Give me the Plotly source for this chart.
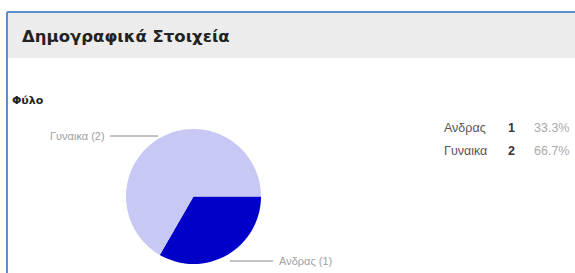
import plotly.graph_objects as go

labels = ["Ανδρας", "Γυναικα"]
counts = [1, 2]
colors = ["#0000c8", "#c8c8f4"]
title_text = "Δημογραφικά Στοιχεία"
section_text = "Φύλο"

W, H = 575, 273
total = sum(counts)
pcts = [c / total * 100 for c in counts]

def px(x):
    return x / W

def py(y):
    return 1 - y / H

fig = go.Figure()
fig.add_trace(go.Pie(
    labels=labels, values=counts, sort=False, direction="clockwise", rotation=90,
    marker=dict(colors=colors, line=dict(width=0)), textinfo="none", hoverinfo="label+value+percent",
    showlegend=False,
    domain=dict(x=[px(124), px(263)], y=[py(264), py(129)]),
))

shapes = [
    # header band
    dict(type="rect", xref="paper", yref="paper", x0=px(8), x1=px(576), y0=py(58), y1=py(13),
         fillcolor="#ececec", line=dict(width=0), layer="below"),
    # border
    dict(type="line", xref="paper", yref="paper", x0=px(7), x1=px(7), y0=py(12), y1=py(274),
         line=dict(color="#5b8fd0", width=2)),
    dict(type="line", xref="paper", yref="paper", x0=px(7), x1=px(576), y0=py(12), y1=py(12),
         line=dict(color="#5b8fd0", width=2)),
    # leader lines
    dict(type="line", xref="paper", yref="paper", x0=px(110), x1=px(158), y0=py(136), y1=py(136),
         line=dict(color="#888888", width=1)),
    dict(type="line", xref="paper", yref="paper", x0=px(230), x1=px(273), y0=py(261), y1=py(261),
         line=dict(color="#888888", width=1)),
]

annotations = [
    dict(text="<b>" + title_text + "</b>", x=px(20), y=py(37), xanchor="left", yanchor="middle",
         font=dict(size=16.5, color="#222222", family="DejaVu Sans, Verdana, sans-serif")),
    dict(text="<b>" + section_text + "</b>", x=px(10), y=py(100), xanchor="left", yanchor="middle",
         font=dict(size=11, color="#222222", family="DejaVu Sans, Arial, sans-serif")),
    dict(text=f"{labels[1]} ({counts[1]})", x=px(107), y=py(136), xanchor="right", yanchor="middle",
         font=dict(size=11, color="#a0a0a0", family="Arial, sans-serif")),
    dict(text=f"{labels[0]} ({counts[0]})", x=px(277), y=py(261), xanchor="left", yanchor="middle",
         font=dict(size=11, color="#a0a0a0", family="Arial, sans-serif")),
]

rows_y = [128, 151]
for i in range(len(labels)):
    annotations.append(dict(text=labels[i], x=px(442), y=py(rows_y[i]), xanchor="left", yanchor="middle",
                            font=dict(size=12.5, color="#555555", family="Arial, sans-serif")))
    annotations.append(dict(text=f"<b>{counts[i]}</b>", x=px(511), y=py(rows_y[i]), xanchor="center", yanchor="middle",
                            font=dict(size=12.5, color="#333333", family="Arial, sans-serif")))
    annotations.append(dict(text=f"{pcts[i]:.1f}%", x=px(532), y=py(rows_y[i]), xanchor="left", yanchor="middle",
                            font=dict(size=12.5, color="#aaaaaa", family="Arial, sans-serif")))

for a in annotations:
    a.update(xref="paper", yref="paper", showarrow=False)

fig.update_layout(
    width=W, height=H, margin=dict(l=0, r=0, t=0, b=0),
    paper_bgcolor="white", plot_bgcolor="white",
    shapes=shapes, annotations=annotations,
)

fig.write_html("out.html", config={"displayModeBar": False},
               post_script="document.body.style.margin='0';document.body.style.overflow='hidden';")
